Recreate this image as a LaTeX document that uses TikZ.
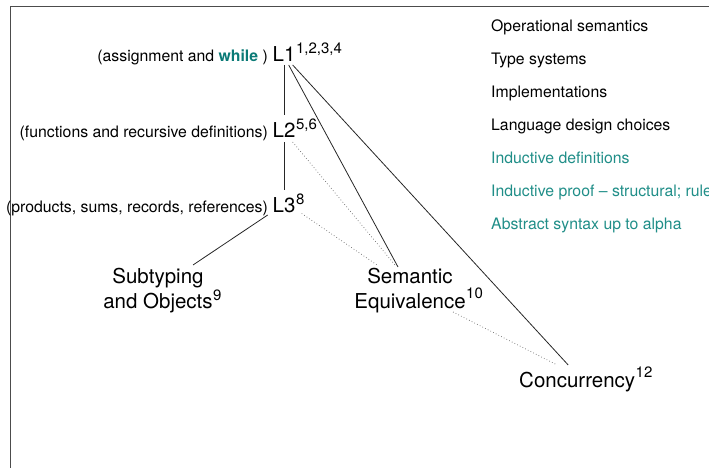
\documentclass[tikz,border=0pt]{standalone}
\usepackage{fontspec}
\setmainfont{TeX Gyre Heros}
\usetikzlibrary{calc}
\definecolor{tealtext}{RGB}{32,142,136}
\definecolor{tealbold}{RGB}{10,122,118}
\newcommand{\smallsz}{\fontsize{15.8}{18}\selectfont}
\newcommand{\bigsz}{\fontsize{20.5}{24}\selectfont}
\newcommand{\supsz}{\fontsize{15}{18}\selectfont}
\newcommand{\mysup}[2][8pt]{\rlap{\kern0.5pt\raisebox{#1}{\supsz #2}}}
\begin{document}
\begin{tikzpicture}[x=1pt,y=-1pt,
  lab/.style={inner sep=0pt, font=\smallsz, anchor=base east},
  lang/.style={inner sep=0pt, font=\bigsz, anchor=base west},
  topic/.style={inner sep=0pt, font=\bigsz, anchor=base},
  item/.style={inner sep=0pt, font=\smallsz, anchor=base west},
  solidlink/.style={draw=black!85, line width=0.8pt},
  dotlink/.style={draw=black!60, line width=0.7pt, dash pattern=on 0.7pt off 2.3pt}]
\useasboundingbox (0,0) rectangle (709,468);
\draw[black!70, line width=1.3pt] (10.5,470) -- (10.5,6.5) -- (712,6.5);

% left labels
\node[lab] (d1) at (268,62) {(assignment and \textbf{\color{tealbold}while} )};
\node[lab] (d2) at (268,137) {(functions and recursive definitions)};
\node[lab] (d3) at (268,212) {(products, sums, records, references)};

% languages
\node[lang] (L1) at (272.5,62) {L1\mysup[8pt]{1,2,3,4}};
\node[lang] (L2) at (272.5,137) {L2\mysup[8pt]{5,6}};
\node[lang] (L3) at (272.5,212) {L3\mysup[8pt]{8}};

% topics
\node[topic] (sub1) at (158,283) {Subtyping};
\node[topic] (sub2) at (158,308) {and Objects\mysup[8pt]{9}};
\node[topic] (sem1) at (410,283) {Semantic};
\node[topic] (sem2) at (410,308) {Equivalence\mysup[10pt]{10}};
\node[lang] (conc) at (519,387) {Concurrency\mysup[10pt]{12}};

% right list
\node[item] (i1) at (491,32) {Operational semantics};
\node[item] (i2) at (491,65) {Type systems};
\node[item] (i3) at (491,98) {Implementations};
\node[item] (i4) at (491,130.5) {Language design choices};
\node[item, text=tealtext] (i5) at (491,163) {Inductive definitions};
\node[item, text=tealtext] (i6) at (491,196) {Inductive proof -- structural; rule};
\node[item, text=tealtext] (i7) at (491,229) {Abstract syntax up to alpha};

% connectors
\draw[solidlink] ($(L1.base)+(0,3)$) -- ($(L2.base)+(0,-22)$);
\draw[solidlink] ($(L2.base)+(0,5)$) -- ($(L3.base)+(0,-22)$);
\draw[solidlink] ($(L1.base)+(4.6,3)$) -- ($(sem1.base)+(-12,-16)$);
\draw[solidlink] ($(L1.base)+(8.6,3)$) -- ($(conc.base)+(-9,-22)$);
\draw[solidlink] ($(L3.base)+(-16.4,3)$) -- ($(sub1.base)+(35,-18)$);
\draw[dotlink] ($(L2.base)+(8.6,5)$) -- ($(sem1.base)+(-15,-18)$);
\draw[dotlink] ($(L3.base)+(17.6,1.5)$) -- ($(sem1.base)+(-33,-18)$);
\draw[dotlink] ($(sem2.base)+(43,4)$) -- ($(conc.base)+(-20,-22)$);
\end{tikzpicture}
\end{document}
